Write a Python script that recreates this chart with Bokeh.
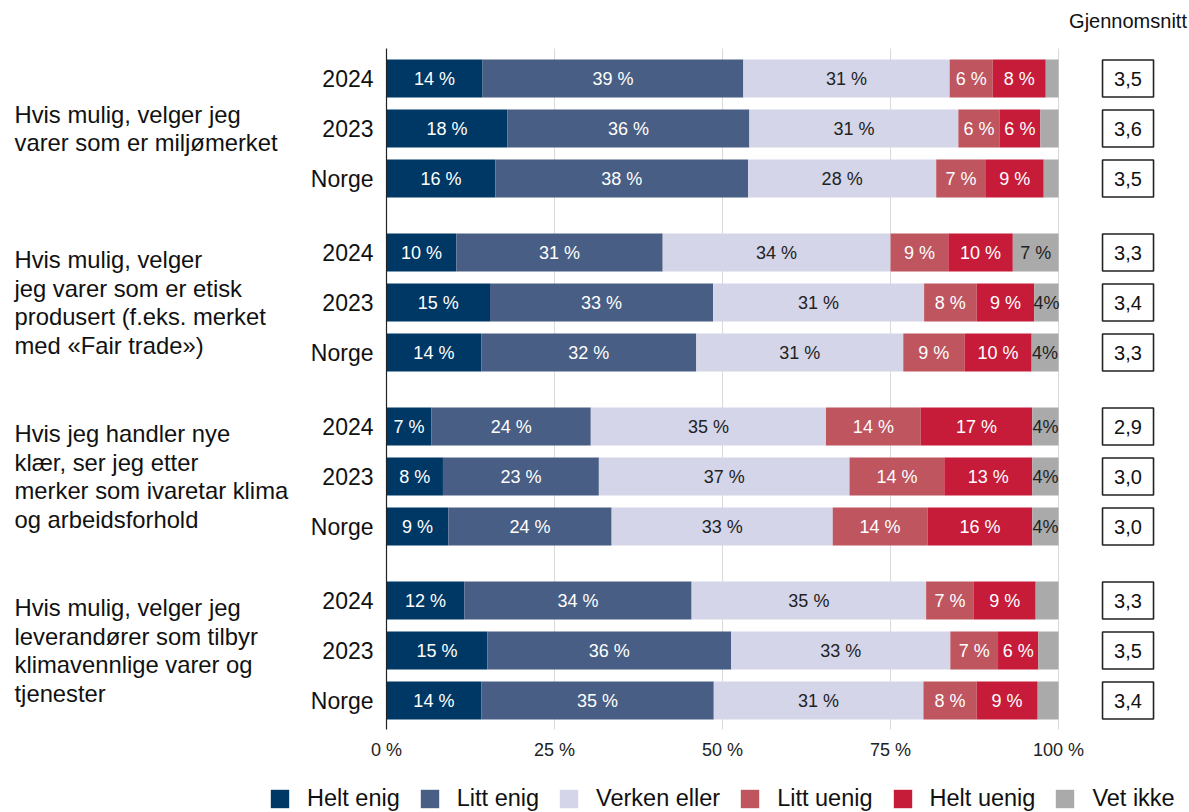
from bokeh.plotting import figure
from bokeh.models import ColumnDataSource, Range1d, Legend, LegendItem
from bokeh.core.properties import value
from bokeh.embed import file_html
from bokeh.resources import INLINE

# ---------------- data ----------------
statements = [
    "Hvis mulig, velger jeg\nvarer som er miljømerket",
    "Hvis mulig, velger\njeg varer som er etisk\nprodusert (f.eks. merket\nmed «Fair trade»)",
    "Hvis jeg handler nye\nklær, ser jeg etter\nmerker som ivaretar klima\nog arbeidsforhold",
    "Hvis mulig, velger jeg\nleverandører som tilbyr\nklimavennlige varer og\ntjenester",
]
row_labels = ["2024", "2023", "Norge"]
categories = ["Helt enig", "Litt enig", "Verken eller", "Litt uenig", "Helt uenig", "Vet ikke"]

helt_enig = [14.3, 18.0, 16.2, 10.4, 15.4, 14.1, 6.7, 8.4, 9.2, 11.6, 15.0, 14.1]
litt_enig = [38.8, 36.0, 37.6, 30.7, 33.2, 32.0, 23.7, 23.2, 24.3, 33.8, 36.3, 34.6]
verken_eller = [30.7, 31.1, 28.0, 33.9, 31.4, 30.8, 35.0, 37.3, 32.9, 34.9, 32.6, 31.2]
litt_uenig = [6.4, 6.1, 7.4, 8.6, 7.8, 9.1, 14.1, 14.1, 14.1, 7.1, 7.1, 7.9]
helt_uenig = [7.9, 6.1, 8.6, 9.6, 8.6, 10.0, 16.6, 13.1, 15.6, 9.2, 6.0, 9.1]
vet_ikke = [1.9, 2.7, 2.2, 6.8, 3.6, 4.0, 3.9, 3.9, 3.9, 3.4, 3.0, 3.1]

gjennomsnitt = [3.5, 3.6, 3.5, 3.3, 3.4, 3.3, 2.9, 3.0, 3.0, 3.3, 3.5, 3.4]

tick_values = [0, 25, 50, 75, 100]
tick_labels = ["0 %", "25 %", "50 %", "75 %", "100 %"]

# ---------------- styles ----------------
colors = ["#003865", "#485e84", "#d5d5e9", "#be555f", "#c61c3a", "#aaaaaa"]
text_colors = ["white", "white", "#222222", "white", "white", "#222222"]
FONT = "Liberation Sans"

series = [helt_enig, litt_enig, verken_eller, litt_uenig, helt_uenig, vet_ikke]
n_groups = len(statements)
n_rows = len(row_labels)
GROUP_STEP = 3.48
ys = [g * GROUP_STEP + r for g in range(n_groups) for r in range(n_rows)]

W, H = 1189, 812
x_start, x_end = -57.44, 119.49
y_top, y_bottom = -1.56, 14.68

p = figure(width=W, height=H, x_range=Range1d(x_start, x_end),
           y_range=Range1d(y_bottom, y_top), output_backend="svg",
           toolbar_location=None, min_border=0, outline_line_color=None,
           x_axis_location=None, y_axis_location=None)
p.xgrid.visible = False
p.ygrid.visible = False

px_per_unit = W / (x_end - x_start)

# vertical grid lines (behind bars)
gy0 = ys[0] - 0.6
gy1 = ys[-1] + 0.58
grid_x = [t for t in tick_values if t != 0]
grid_src = ColumnDataSource(dict(x=grid_x, y0=[gy0] * len(grid_x), y1=[gy1] * len(grid_x)))
p.segment(x0="x", x1="x", y0="y0", y1="y1", source=grid_src,
          line_color="#d9d9d9", line_width=1)

# stacked bars
lefts = [0.0] * len(ys)
label_x, label_y, label_t, label_c = [], [], [], []
renderers = []
for ci, (cat, vals) in enumerate(zip(categories, series)):
    rights = [l + v for l, v in zip(lefts, vals)]
    src = ColumnDataSource(dict(y=ys, left=lefts, right=rights))
    r = p.hbar(y="y", left="left", right="right", height=0.76, source=src,
               fill_color=colors[ci], line_color=None)
    renderers.append(r)
    for l, v, yy in zip(lefts, vals, ys):
        iv = int(round(v))
        if iv >= 4:
            label_x.append(l + v / 2)
            label_y.append(yy)
            if cat == "Vet ikke" and iv < 5:
                label_t.append(f"{iv}%")
            else:
                label_t.append(f"{iv} %")
            label_c.append(text_colors[ci])
    lefts = rights

lab_src = ColumnDataSource(dict(x=label_x, y=label_y, t=label_t, c=label_c))
p.text(x="x", y="y", text="t", text_color="c", source=lab_src,
       text_align="center", text_baseline="middle",
       text_font=value(FONT), text_font_size="18px")

# 0 % line
zero_src = ColumnDataSource(dict(x=[tick_values[0]], y0=[gy0], y1=[gy1]))
p.segment(x0="x", x1="x", y0="y0", y1="y1", source=zero_src,
          line_color="#222222", line_width=1.2)

# x tick labels (value axis)
tick_src = ColumnDataSource(dict(x=tick_values, y=[ys[-1] + 0.98] * len(tick_values),
                                 t=tick_labels))
p.text(x="x", y="y", text="t", source=tick_src, text_align="center",
       text_baseline="middle", text_font=value(FONT), text_font_size="18px",
       text_color="#222222")

# row labels
row_src = ColumnDataSource(dict(x=[-13 / px_per_unit] * len(ys), y=ys,
                                t=[row_labels[i % n_rows] for i in range(len(ys))]))
p.text(x="x", y="y", text="t", source=row_src, text_align="right",
       text_baseline="middle", text_font=value(FONT), text_font_size="23px",
       text_color="#111111")

# group labels
grp_src = ColumnDataSource(dict(x=[x_start + 14 / px_per_unit] * n_groups,
                                y=[g * GROUP_STEP + 1 for g in range(n_groups)],
                                t=statements))
p.text(x="x", y="y", text="t", source=grp_src, text_align="left",
       text_baseline="middle", text_font=value(FONT), text_font_size="23.8px",
       text_line_height=1.05, text_color="#111111")

# Gjennomsnitt column
gx = 100 + (1127.5 - 1058) / px_per_unit
avg_src = ColumnDataSource(dict(x=[gx] * len(ys), y=ys,
                                t=[f"{v:.1f}".replace(".", ",") for v in gjennomsnitt]))
p.rect(x="x", y="y", width=51, height=37, width_units="screen", height_units="screen",
       source=avg_src, fill_color="white", line_color="#222222", line_width=1.6)
p.text(x="x", y="y", text="t", source=avg_src, text_align="center",
       text_baseline="middle", text_font=value(FONT), text_font_size="20px",
       text_color="#111111")
head_src = ColumnDataSource(dict(x=[gx], y=[ys[0] - 1.16], t=["Gjennomsnitt"]))
p.text(x="x", y="y", text="t", source=head_src, text_align="center",
       text_baseline="middle", text_font=value(FONT), text_font_size="20px",
       text_color="#111111")

legend = Legend(items=[LegendItem(label=c, renderers=[r]) for c, r in zip(categories, renderers)],
                orientation="horizontal", location=(268, 0), padding=0, margin=0,
                spacing=18, label_standoff=16, glyph_width=23, glyph_height=23,
                label_text_font=FONT, label_text_font_size="23.5px",
                label_text_color="#111111",
                border_line_color=None, background_fill_alpha=0)
p.add_layout(legend, "center")

open("out.html", "w").write(file_html(p, INLINE))
